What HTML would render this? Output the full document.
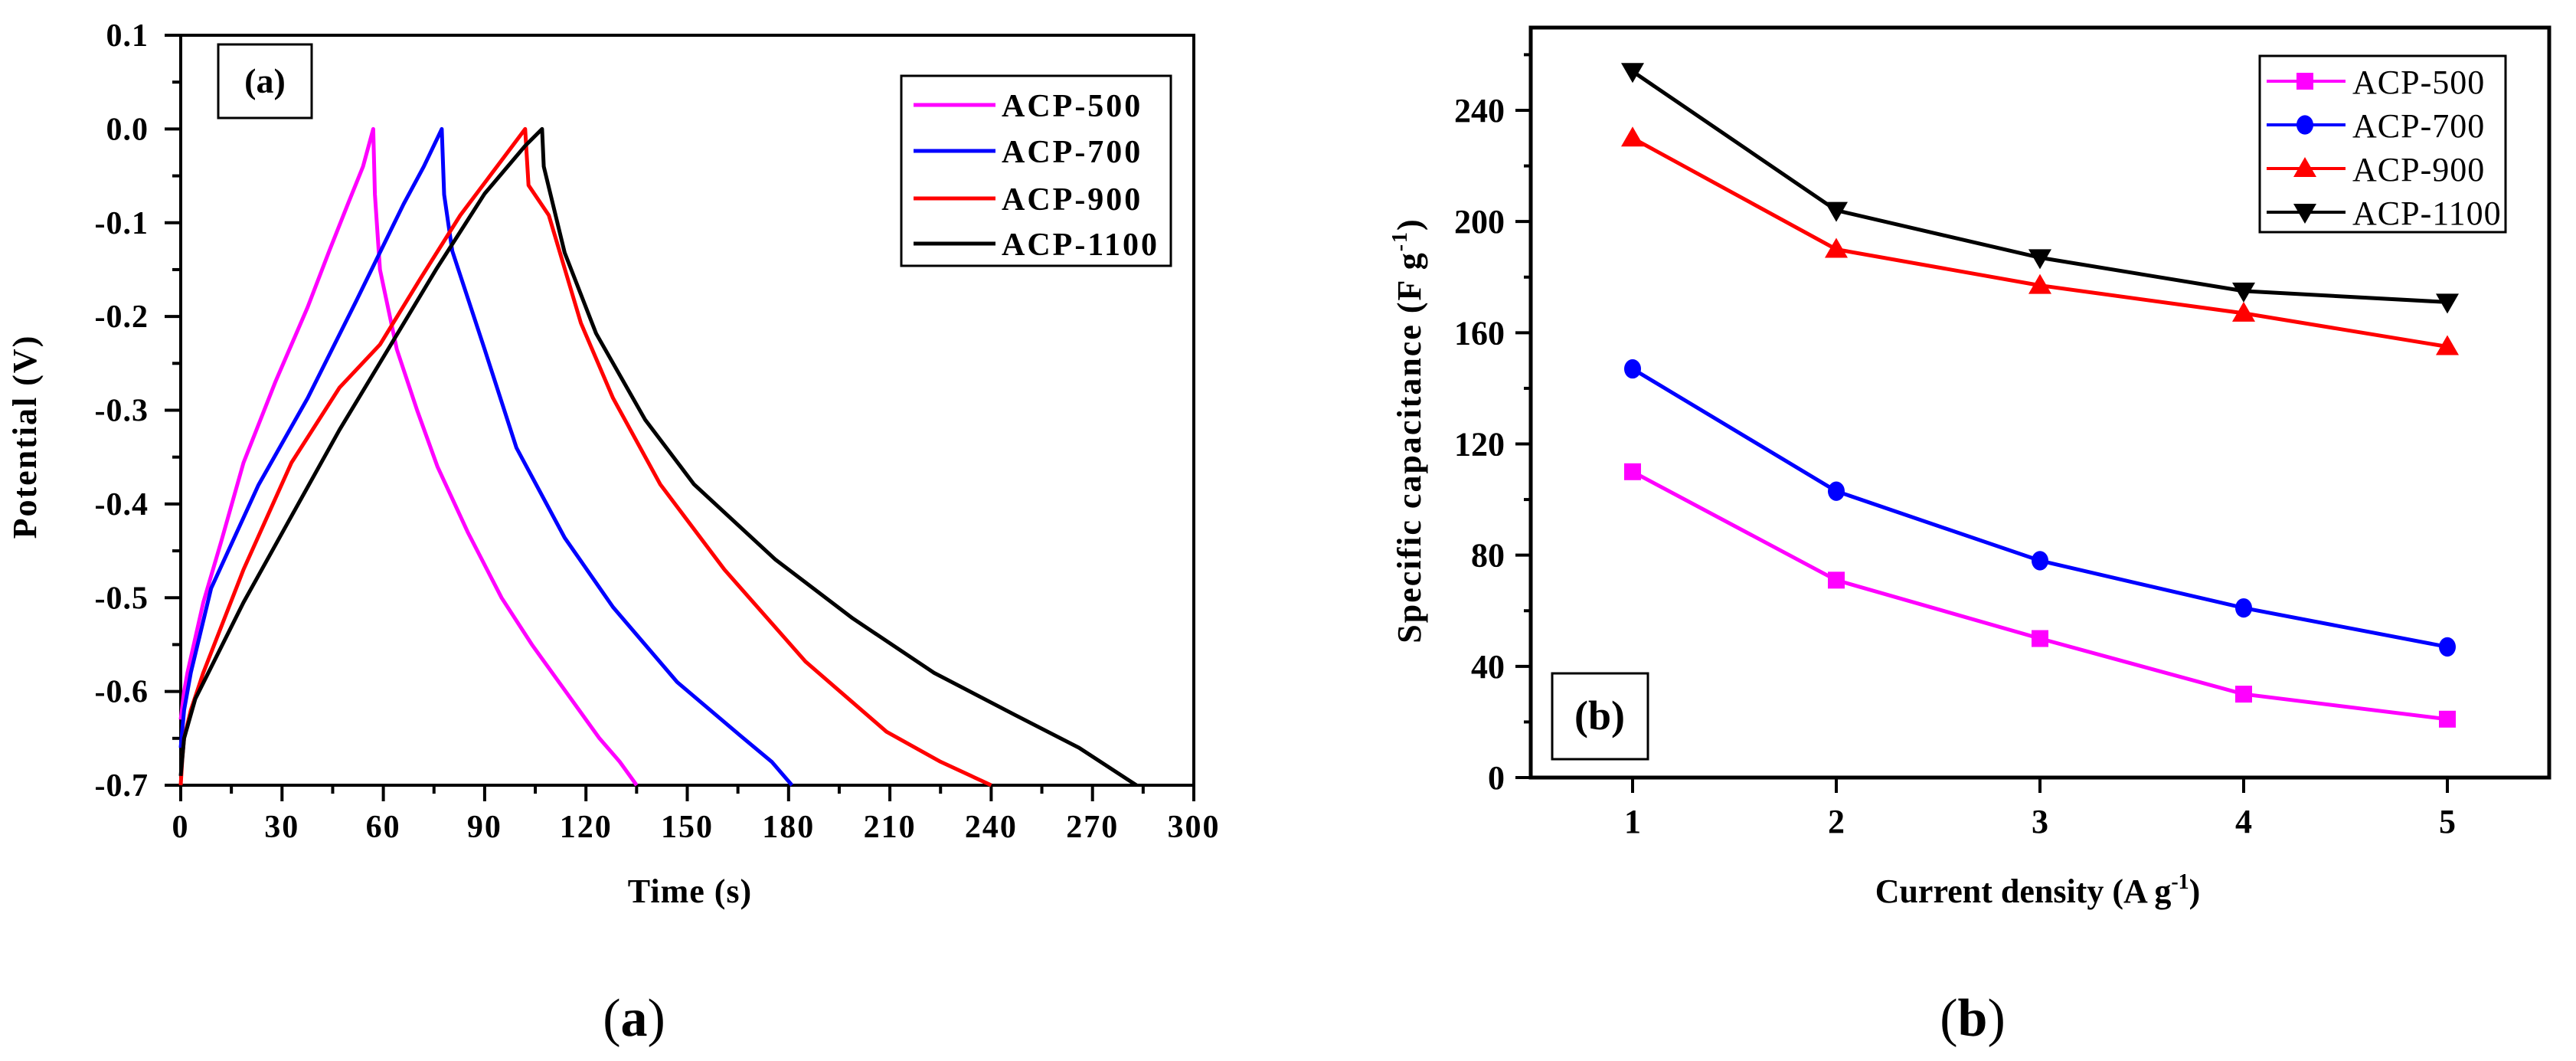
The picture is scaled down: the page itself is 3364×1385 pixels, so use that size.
<!DOCTYPE html>
<html><head><meta charset="utf-8"><style>
html,body{margin:0;padding:0;background:#fff;}
svg{display:block;font-family:"Liberation Serif",serif;}
</style></head><body>
<svg id="fig" width="3364" height="1385" viewBox="0 0 3364 1385" xmlns="http://www.w3.org/2000/svg">
<rect width="3364" height="1385" fill="#fff"/>
<g id="pa"></g>
<g id="pb"></g>
<text x="828" y="1352" font-size="70" text-anchor="middle">(<tspan font-weight="bold">a</tspan>)</text>
<text x="2576" y="1352" font-size="70" text-anchor="middle">(<tspan font-weight="bold">b</tspan>)</text>
</svg>
<script>
// ---------- Panel (a) data ----------
const aSeriesNames = ["ACP-500","ACP-700","ACP-900","ACP-1100"];
const aColors = ["#ff00ff","#0000ff","#ff0000","#000000"];
const t500 = [0,1,2,6.7,12,18.6,28,37.6,44,49.5,54,57,57.5,59,64,70,76,85,95,104,114,124,130,135];
const v500 = [-0.63,-0.6,-0.58,-0.505,-0.44,-0.356,-0.27,-0.19,-0.13,-0.08,-0.04,0,-0.07,-0.15,-0.235,-0.3,-0.36,-0.43,-0.5,-0.55,-0.6,-0.65,-0.675,-0.7];
const t700 = [0,1,3,9,23,37.6,51.9,66,72,77.3,78,80.4,90,99.4,113.7,128,147,166,175,181];
const v700 = [-0.66,-0.62,-0.58,-0.49,-0.38,-0.287,-0.184,-0.08,-0.04,0,-0.07,-0.13,-0.235,-0.34,-0.436,-0.51,-0.59,-0.648,-0.675,-0.7];
const t900 = [0,0.5,1,3,6.7,18.6,32.8,47,59,70.9,82.8,94.7,102,103,109,118.5,128,142,161,185,209,225,240];
const v900 = [-0.7,-0.67,-0.65,-0.62,-0.58,-0.47,-0.356,-0.276,-0.23,-0.16,-0.092,-0.035,0,-0.06,-0.092,-0.207,-0.287,-0.379,-0.47,-0.568,-0.643,-0.675,-0.7];
const t1100 = [0,0.5,1,4.3,18.6,32.8,47,61.4,75.6,90,102,107,107.5,113.7,123,137.5,152,176,199,223,247,266,283];
const v1100 = [-0.69,-0.67,-0.65,-0.608,-0.505,-0.413,-0.321,-0.235,-0.15,-0.069,-0.018,0,-0.04,-0.132,-0.218,-0.31,-0.379,-0.459,-0.522,-0.58,-0.625,-0.66,-0.7];
const aXTicks = [0,30,60,90,120,150,180,210,240,270,300];
const aYTicks = [0.1,0.0,-0.1,-0.2,-0.3,-0.4,-0.5,-0.6,-0.7];
const aYTickLabels = ["0.1","0.0","-0.1","-0.2","-0.3","-0.4","-0.5","-0.6","-0.7"];

// ---------- Panel (b) data ----------
const bCategories = [1,2,3,4,5];
const bNames = ["ACP-500","ACP-700","ACP-900","ACP-1100"];
const bColors = ["#ff00ff","#0000ff","#ff0000","#000000"];
const bMarkers = ["square","circle","triangle","invtriangle"];
const cap500 = [110,71,50,30,21];
const cap700 = [147,103,78,61,47];
const cap900 = [230,190,177,167,155];
const cap1100 = [254,204,187,175,171];
const bYTicks = [0,40,80,120,160,200,240];

const NS="http://www.w3.org/2000/svg";
function mk(tag, attrs, parent){const e=document.createElementNS(NS,tag);for(const k in attrs)e.setAttribute(k,attrs[k]);parent.appendChild(e);return e;}

// ===== Panel A =====
(function(){
  const g=document.getElementById('pa');
  const X0=236,X1=1559,Y0=46,Y1=1025;
  const xs=t=>X0+(t-0)/(300-0)*(X1-X0);
  const ys=v=>Y1-(v-(-0.7))/(0.1-(-0.7))*(Y1-Y0);
  const frame=mk('rect',{x:X0,y:Y0,width:X1-X0,height:Y1-Y0,fill:'none',stroke:'#000','stroke-width':4},g);
  
  
  aXTicks.forEach((t,i)=>{
    const l=mk('line',{x1:xs(t),x2:xs(t),y1:Y1,y2:Y1+21,stroke:'#000','stroke-width':4},g);
    
    
    if(i<aXTicks.length-1){const m=mk('line',{x1:xs(t+15),x2:xs(t+15),y1:Y1,y2:Y1+11,stroke:'#000','stroke-width':4},g);
      
      }
    const tx=mk('text',{x:xs(t),y:Y1+68,'font-size':42,'font-weight':'bold','text-anchor':'middle','letter-spacing':2},g);
    tx.textContent=String(t);
    
    
  });
  aYTicks.forEach((v,i)=>{
    const l=mk('line',{x1:X0-21,x2:X0,y1:ys(v),y2:ys(v),stroke:'#000','stroke-width':4},g);
    
    
    if(i<aYTicks.length-1){const m=mk('line',{x1:X0-11,x2:X0,y1:ys(v-0.05),y2:ys(v-0.05),stroke:'#000','stroke-width':4},g);
      
      }
    const tx=mk('text',{x:X0-42,y:ys(v)+14,'font-size':42,'font-weight':'bold','text-anchor':'end','letter-spacing':1},g);
    tx.textContent=aYTickLabels[i];
    
    
  });
  const T=[t500,t700,t900,t1100],V=[v500,v700,v900,v1100];
  T.forEach((ts,k)=>{
    const pts=ts.map((t,i)=>xs(t).toFixed(1)+','+ys(V[k][i]).toFixed(1)).join(' ');
    const p=mk('polyline',{points:pts,fill:'none',stroke:aColors[k],'stroke-width':5,'stroke-linejoin':'round'},g);
    
    
  });
  // label box
  const lb=mk('rect',{x:285,y:58,width:122,height:96,fill:'#fff',stroke:'#000','stroke-width':3},g);
  
  
  const lt=mk('text',{x:346,y:121,'font-size':46,'font-weight':'bold','text-anchor':'middle'},g);
  lt.textContent='(a)';
  
  
  // legend
  const lg=mk('g',{},g);
  
  
  mk('rect',{x:1177,y:99,width:352,height:248,fill:'#fff',stroke:'#000','stroke-width':3},lg);
  const rows=[137,197,259,318];
  aSeriesNames.forEach((n,k)=>{
    const e=mk('g',{},lg);
    
    
    mk('line',{x1:1193,x2:1300,y1:rows[k],y2:rows[k],stroke:aColors[k],'stroke-width':5},e);
    const t=mk('text',{x:1308,y:rows[k]+15,'font-size':42,'font-weight':'bold','letter-spacing':3},e);
    t.textContent=n;
  });
  const xt=mk('text',{x:901,y:1178,'font-size':44,'font-weight':'bold','text-anchor':'middle','letter-spacing':1},g);
  xt.textContent='Time (s)';
  
  
  const yt=mk('text',{x:0,y:0,'font-size':44,'font-weight':'bold','text-anchor':'middle','letter-spacing':2,transform:'translate(47,570) rotate(-90)'},g);
  yt.textContent='Potential (V)';
  
  
})();

// ===== Panel B =====
(function(){
  const g=document.getElementById('pb');
  const X0=1999,X1=3329,Y0=36,Y1=1015;
  const xs=c=>X0+(c-0.5)/(5.5-0.5)*(X1-X0);
  const ys=v=>Y1-(v-0)/(240-0)*(Y1-144);
  const frame=mk('rect',{x:X0,y:Y0,width:X1-X0,height:Y1-Y0,fill:'none',stroke:'#000','stroke-width':5},g);
  
  
  bCategories.forEach(c=>{
    const l=mk('line',{x1:xs(c),x2:xs(c),y1:Y1,y2:Y1+20,stroke:'#000','stroke-width':4},g);
    
    
    const tx=mk('text',{x:xs(c),y:Y1+72,'font-size':44,'font-weight':'bold','text-anchor':'middle'},g);
    tx.textContent=String(c);
    
    
  });
  bYTicks.forEach(v=>{
    const l=mk('line',{x1:X0-20,x2:X0,y1:ys(v),y2:ys(v),stroke:'#000','stroke-width':4},g);
    
    
    const m=mk('line',{x1:X0-9,x2:X0,y1:ys(v+20),y2:ys(v+20),stroke:'#000','stroke-width':4},g);
    
    
    const tx=mk('text',{x:X0-34,y:ys(v)+15,'font-size':44,'font-weight':'bold','text-anchor':'end'},g);
    tx.textContent=String(v);
    
    
  });
  function marker(type,x,y,col,parent){
    const s=11;
    if(type==='square')return mk('rect',{x:x-s,y:y-s,width:2*s,height:2*s,fill:col},parent);
    if(type==='circle')return mk('ellipse',{cx:x,cy:y,rx:s,ry:s*1.15,fill:col},parent);
    if(type==='triangle')return mk('polygon',{points:`${x},${y-15} ${x-15},${y+11} ${x+15},${y+11}`,fill:col},parent);
    return mk('polygon',{points:`${x},${y+15} ${x-15},${y-11} ${x+15},${y-11}`,fill:col},parent);
  }
  const S=[cap500,cap700,cap900,cap1100];
  S.forEach((vals,k)=>{
    const sg=mk('g',{},g);
    
    
    const pts=vals.map((v,i)=>xs(bCategories[i]).toFixed(1)+','+ys(v).toFixed(1)).join(' ');
    mk('polyline',{points:pts,fill:'none',stroke:bColors[k],'stroke-width':5},sg);
    vals.forEach((v,i)=>{
      const m=marker(bMarkers[k],xs(bCategories[i]),ys(v),bColors[k],sg);
      
      
    });
  });
  const lb=mk('rect',{x:2027,y:879,width:125,height:112,fill:'#fff',stroke:'#000','stroke-width':3},g);
  
  
  const lt=mk('text',{x:2089,y:952,'font-size':54,'font-weight':'bold','text-anchor':'middle'},g);
  lt.textContent='(b)';
  
  
  const lg=mk('g',{},g);
  
  
  mk('rect',{x:2951,y:73,width:321,height:230,fill:'#fff',stroke:'#000','stroke-width':3},lg);
  const rows=[106,163,220,277];
  bNames.forEach((n,k)=>{
    const e=mk('g',{},lg);
    
    
    mk('line',{x1:2960,x2:3063,y1:rows[k],y2:rows[k],stroke:bColors[k],'stroke-width':4},e);
    marker(bMarkers[k],3010,rows[k],bColors[k],e);
    const t=mk('text',{x:3072,y:rows[k]+16,'font-size':44,'letter-spacing':1},e);
    t.textContent=n;
  });
  const xt=mk('text',{x:2661,y:1178,'font-size':44,'font-weight':'bold','text-anchor':'middle'},g);
  xt.innerHTML='Current density (A g<tspan dy="-18" font-size="28">-1</tspan><tspan dy="18">)</tspan>';
  
  
  const yt=mk('text',{x:0,y:0,'font-size':44,'font-weight':'bold','text-anchor':'middle','letter-spacing':2,transform:'translate(1855,562) rotate(-90)'},g);
  yt.innerHTML='Specific capacitance (F g<tspan dy="-18" font-size="28">-1</tspan><tspan dy="18">)</tspan>';
  
  
})();
</script>
</body></html>
